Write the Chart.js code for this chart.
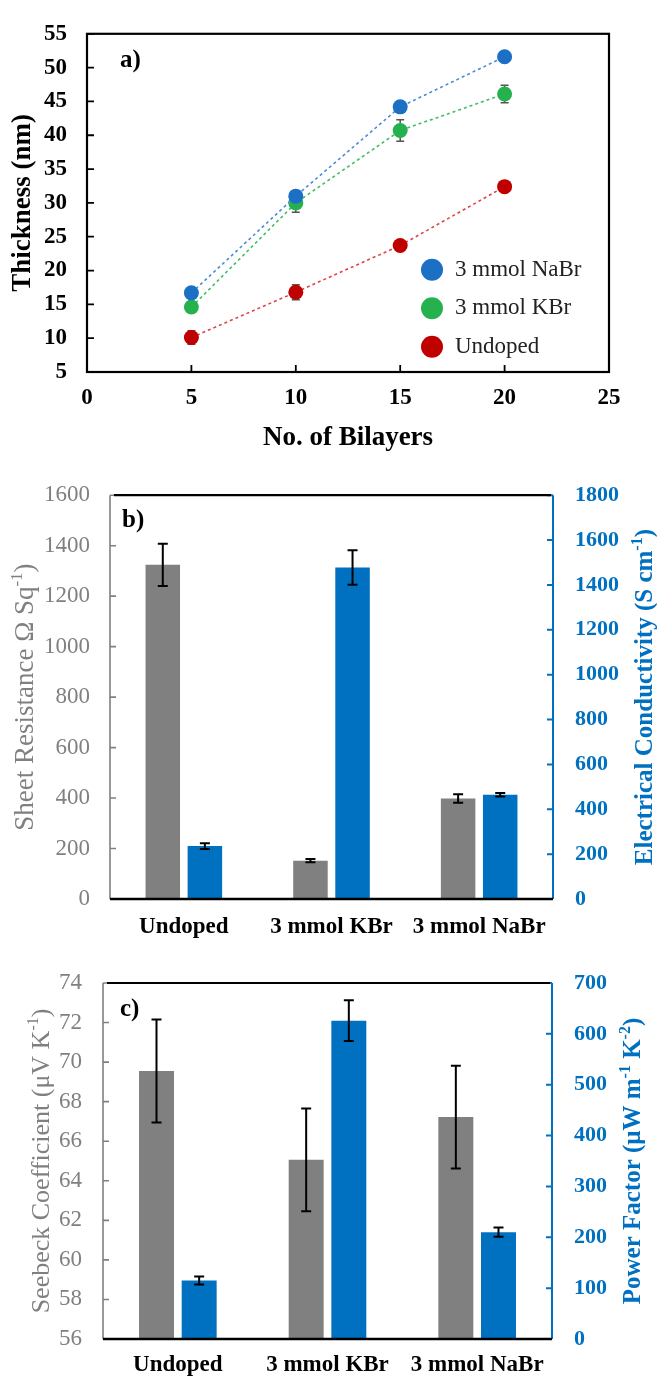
<!DOCTYPE html>
<html><head><meta charset="utf-8">
<script src="https://cdn.jsdelivr.net/npm/chart.js@4.4.1/dist/chart.umd.min.js"></script>
<style>
html,body{margin:0;padding:0;background:#fff;}
canvas{position:absolute;left:0;}
</style></head><body>
<canvas id="ca" style="top:0px" width="657" height="460"></canvas>
<canvas id="cb" style="top:460px" width="657" height="485"></canvas>
<canvas id="cc" style="top:945px" width="657" height="434"></canvas>
<script>
// ---------- DATA ----------
const bilayers = [5, 10, 15, 20];
const nabrThickness = [16.7, 31.0, 44.2, 51.6];
const nabrThicknessErr = [0.4, 0.5, 0.5, 0.4];
const kbrThickness = [14.6, 30.0, 40.7, 46.1];
const kbrThicknessErr = [0.5, 1.4, 1.6, 1.3];
const undopedThickness = [10.1, 16.8, 23.7, 32.4];
const undopedThicknessErr = [1.0, 1.1, 0.4, 0.7];
const seriesNamesA = ['3 mmol NaBr', '3 mmol KBr', 'Undoped'];

const samples = ['Undoped', '3 mmol KBr', '3 mmol NaBr'];
const sheetResistance = [1324, 152, 398];
const sheetResistanceErr = [84, 6, 17];
const conductivity = [236, 1478, 465];
const conductivityErr = [13, 77, 8];
const seebeck = [69.55, 65.06, 67.22];
const seebeckErr = [2.6, 2.6, 2.6];
const powerFactor = [115, 626, 210];
const powerFactorErr = [8, 40, 9];

// ---------- STYLE ----------
const FONT = "'Liberation Serif','Times New Roman',serif";
const GRAY = '#808080';
const BLUE = '#0070C0';
const PT_COLORS = ['#1B6FC4', '#25B24E', '#C00000'];
const LN_COLORS = ['#4A8CD4', '#3EBE65', '#E04545'];
const plainTick = v => String(v);

function richText(ctx, parts, size, weight, color, cx, cy) {
  const big = weight + ' ' + size + 'px ' + FONT;
  const small = weight + ' ' + Math.round(size * 0.62) + 'px ' + FONT;
  let w = 0;
  parts.forEach(p => { ctx.font = p.sup ? small : big; p.w = ctx.measureText(p.t).width; w += p.w; });
  let x = cx - w / 2;
  ctx.fillStyle = color; ctx.textBaseline = 'alphabetic'; ctx.textAlign = 'left';
  parts.forEach(p => {
    ctx.font = p.sup ? small : big;
    ctx.fillText(p.t, x, cy + size * 0.33 - (p.sup ? size * 0.4 : 0));
    x += p.w;
  });
}
function vTitle(ctx, parts, size, weight, color, x, y) {
  ctx.save(); ctx.translate(x, y); ctx.rotate(-Math.PI / 2);
  richText(ctx, parts, size, weight, color, 0, 0);
  ctx.restore();
}
function drawErrors(chart, o) {
  const ctx = chart.ctx;
  chart.data.datasets.forEach((ds, di) => {
    if (!ds.errors) return;
    const meta = chart.getDatasetMeta(di);
    const ys = chart.scales[meta.yAxisID];
    meta.data.forEach((el, i) => {
      const d = ds.data[i];
      const v = (typeof d === 'object') ? d.y : d;
      const e = ds.errors[i];
      const yt = ys.getPixelForValue(v + e), yb = ys.getPixelForValue(v - e);
      ctx.save(); ctx.strokeStyle = o.color; ctx.lineWidth = o.width;
      ctx.beginPath();
      ctx.moveTo(el.x, yt); ctx.lineTo(el.x, yb);
      ctx.moveTo(el.x - o.cap, yt); ctx.lineTo(el.x + o.cap, yt);
      ctx.moveTo(el.x - o.cap, yb); ctx.lineTo(el.x + o.cap, yb);
      ctx.stroke(); ctx.restore();
    });
  });
}
const errorBars = {
  id: 'errorBars',
  beforeDatasetsDraw(chart, args, o) { if (o.behind) drawErrors(chart, o); },
  afterDatasetsDraw(chart, args, o) { if (!o.behind) drawErrors(chart, o); }
};

// ---------- PANEL A ----------
const frameA = {
  id: 'frameA',
  afterDraw(chart) {
    const { ctx, chartArea: a, scales: { x, y } } = chart;
    ctx.save();
    ctx.strokeStyle = '#000'; ctx.lineWidth = 2.2;
    ctx.strokeRect(a.left, a.top, a.right - a.left, a.bottom - a.top);
    ctx.beginPath();
    x.ticks.forEach(t => { const p = x.getPixelForValue(t.value); ctx.moveTo(p, a.bottom); ctx.lineTo(p, a.bottom - 7); });
    y.ticks.forEach(t => { const p = y.getPixelForValue(t.value); ctx.moveTo(a.left, p); ctx.lineTo(a.left + 7, p); });
    ctx.lineWidth = 1.8; ctx.stroke();
    ctx.fillStyle = '#000'; ctx.font = 'bold 25px ' + FONT; ctx.textBaseline = 'middle'; ctx.textAlign = 'left';
    ctx.fillText('a)', a.left + 33, a.top + 27);
    // legend
    chart.data.datasets.forEach((ds, i) => {
      const cy = a.top + 236 + i * 38.5;
      const cx = a.left + 345;
      ctx.beginPath(); ctx.fillStyle = ds.pointBackgroundColor;
      ctx.arc(cx, cy, 11, 0, Math.PI * 2); ctx.fill();
      ctx.fillStyle = '#222'; ctx.font = '23px ' + FONT; ctx.textBaseline = 'middle';
      ctx.fillText(ds.label, cx + 23, cy);
    });
    ctx.restore();
  }
};
const thickSeries = [nabrThickness, kbrThickness, undopedThickness];
const thickErr = [nabrThicknessErr, kbrThicknessErr, undopedThicknessErr];
new Chart(document.getElementById('ca'), {
  type: 'line',
  data: {
    datasets: thickSeries.map((s, i) => ({
      label: seriesNamesA[i],
      data: bilayers.map((b, j) => ({ x: b, y: s[j] })),
      errors: thickErr[i],
      borderColor: LN_COLORS[i], borderWidth: 1.6, borderDash: [3, 3],
      pointBackgroundColor: PT_COLORS[i], pointBorderColor: PT_COLORS[i],
      pointRadius: 7.5, pointBorderWidth: 0, tension: 0, fill: false
    }))
  },
  options: {
    responsive: false, animation: false, devicePixelRatio: 1,
    layout: { padding: { top: 17, right: 48, left: 0, bottom: 0 } },
    plugins: { legend: { display: false }, tooltip: { enabled: false },
      errorBars: { behind: true, color: '#555', width: 1.5, cap: 4 } },
    scales: {
      x: { type: 'linear', min: 0, max: 25,
        ticks: { stepSize: 5, callback: plainTick, color: '#000', font: { family: FONT, size: 23, weight: 'bold' }, padding: 12 },
        grid: { display: false, drawTicks: false }, border: { display: false },
        title: { display: true, text: 'No. of Bilayers', color: '#000', font: { family: FONT, size: 27, weight: 'bold' }, padding: { top: 0, bottom: 6 } },
        afterFit: s => { s.height = 88; } },
      y: { min: 5, max: 55,
        ticks: { stepSize: 5, callback: plainTick, color: '#000', font: { family: FONT, size: 23, weight: 'bold' }, padding: 20 },
        grid: { display: false, drawTicks: false }, border: { display: false },
        title: { display: true, text: 'Thickness (nm)', color: '#000', font: { family: FONT, size: 27, weight: 'bold' }, padding: { top: 7, bottom: 0 } },
        afterFit: s => { s.width = 87; } }
    }
  },
  plugins: [errorBars, frameA]
});

// ---------- PANELS B & C ----------
const frameBars = {
  id: 'frameBars',
  afterDraw(chart, args, o) {
    const { ctx, chartArea: a, scales } = chart;
    const yl = scales.y, yr = scales.y1;
    ctx.save();
    ctx.strokeStyle = GRAY; ctx.lineWidth = 1.6; ctx.beginPath();
    ctx.moveTo(a.left, a.top); ctx.lineTo(a.left, a.bottom);
    yl.ticks.forEach(t => { const p = yl.getPixelForValue(t.value); ctx.moveTo(a.left, p); ctx.lineTo(a.left + 6, p); });
    ctx.stroke();
    ctx.strokeStyle = BLUE; ctx.lineWidth = 2; ctx.beginPath();
    ctx.moveTo(a.right, a.top); ctx.lineTo(a.right, a.bottom);
    yr.ticks.forEach(t => { const p = yr.getPixelForValue(t.value); ctx.moveTo(a.right, p); ctx.lineTo(a.right - 6, p); });
    ctx.stroke();
    ctx.strokeStyle = '#000'; ctx.lineWidth = 2.2; ctx.beginPath();
    ctx.moveTo(a.left + 4, a.top); ctx.lineTo(a.right - 2, a.top);
    ctx.stroke();
    ctx.lineWidth = 2.6; ctx.beginPath();
    ctx.moveTo(a.left, a.bottom); ctx.lineTo(a.right, a.bottom); ctx.stroke();
    const mid = (a.top + a.bottom) / 2;
    vTitle(ctx, o.leftTitle, o.leftSize, 'normal', GRAY, o.leftX, mid);
    vTitle(ctx, o.rightTitle, o.rightSize, 'bold', BLUE, o.rightX, mid);
    ctx.fillStyle = '#000'; ctx.font = 'bold 25px ' + FONT; ctx.textBaseline = 'middle'; ctx.textAlign = 'left';
    ctx.fillText(o.letter, a.left + o.letterDx, a.top + o.letterDy);
    ctx.restore();
  }
};

function barChart(id, leftVals, leftErr, rightVals, rightErr, cfg) {
  new Chart(document.getElementById(id), {
    type: 'bar',
    data: {
      labels: samples,
      datasets: [
        { data: leftVals, errors: leftErr, yAxisID: 'y', backgroundColor: GRAY, borderWidth: 0,
          categoryPercentage: 0.57, barPercentage: 0.82 },
        { data: rightVals, errors: rightErr, yAxisID: 'y1', backgroundColor: BLUE, borderWidth: 0,
          categoryPercentage: 0.57, barPercentage: 0.82 }
      ]
    },
    options: {
      responsive: false, animation: false, devicePixelRatio: 1,
      layout: { padding: { top: cfg.top, right: 0, left: 0, bottom: 0 } },
      plugins: { legend: { display: false }, tooltip: { enabled: false },
        errorBars: { behind: false, color: '#000', width: 2, cap: 5 },
        frameBars: cfg.frame },
      scales: {
        x: { ticks: { color: '#000', font: { family: FONT, size: 23, weight: 'bold' }, padding: cfg.xPad },
          grid: { display: false, drawTicks: false }, border: { display: false },
          afterFit: s => { s.height = cfg.xH; } },
        y: { position: 'left', min: cfg.lMin, max: cfg.lMax,
          ticks: { stepSize: cfg.lStep, callback: plainTick, color: GRAY, font: { family: FONT, size: 23 }, padding: cfg.lPad },
          grid: { display: false, drawTicks: false }, border: { display: false },
          afterFit: s => { s.width = cfg.lW; } },
        y1: { position: 'right', min: 0, max: cfg.rMax,
          ticks: { stepSize: cfg.rStep, callback: plainTick, color: BLUE, font: { family: FONT, size: 22, weight: 'bold' }, padding: 22 },
          grid: { display: false, drawTicks: false }, border: { display: false },
          afterFit: s => { s.width = cfg.rW; } }
      }
    },
    plugins: [errorBars, frameBars]
  });
}

barChart('cb', sheetResistance, sheetResistanceErr, conductivity, conductivityErr, {
  top: 33, xH: 46, xPad: 14, lMin: 0, lMax: 1600, lStep: 200, lPad: 20, lW: 110,
  rMax: 1800, rStep: 200, rW: 104,
  frame: { letter: 'b)', letterDx: 12, letterDy: 25,
    leftTitle: [{ t: 'Sheet Resistance \u03A9 Sq' }, { t: '-1', sup: true }, { t: ')' }], leftSize: 27, leftX: 24,
    rightTitle: [{ t: 'Electrical Conductivity (S cm' }, { t: '-1', sup: true }, { t: ')' }], rightSize: 25, rightX: 644 }
});

barChart('cc', seebeck, seebeckErr, powerFactor, powerFactorErr, {
  top: 38, xH: 40, xPad: 12, lMin: 56, lMax: 74, lStep: 2, lPad: 21, lW: 103,
  rMax: 700, rStep: 100, rW: 105,
  frame: { letter: 'c)', letterDx: 17, letterDy: 27,
    leftTitle: [{ t: 'Seebeck Coefficient (\u03BCV K' }, { t: '-1', sup: true }, { t: ')' }], leftSize: 26, leftX: 40,
    rightTitle: [{ t: 'Power Factor (\u03BCW m' }, { t: '-1', sup: true }, { t: ' K' }, { t: '-2', sup: true }, { t: ')' }], rightSize: 25, rightX: 632 }
});
</script>
</body></html>
